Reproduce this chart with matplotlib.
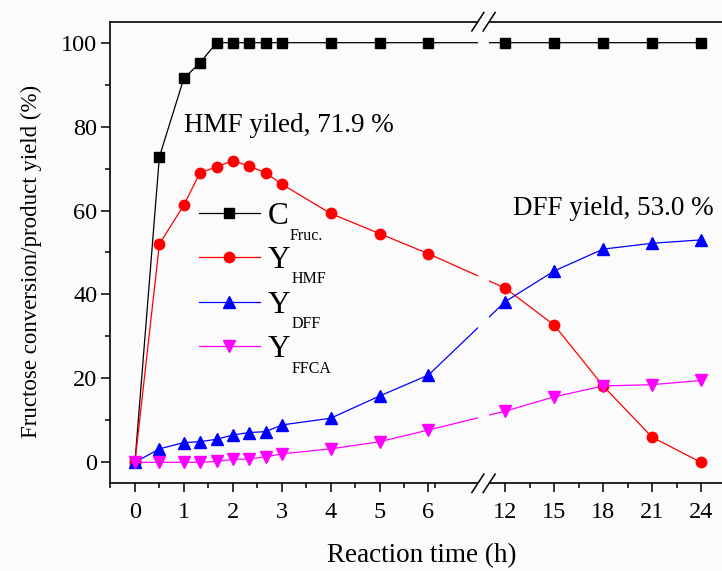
import matplotlib
matplotlib.use("Agg")
import matplotlib.pyplot as plt
import matplotlib.transforms as mtransforms
from matplotlib.patches import Rectangle
import numpy as np

# reaction time (h)
time_h = [0, 0.5, 1, 1.33, 1.67, 2, 2.33, 2.67, 3, 4, 5, 6, 12, 15, 18, 21, 24]

# fructose conversion and product yields (%)
c_fruc = [0, 72.8, 91.5, 95.2, 100, 100, 100, 100, 100, 100, 100, 100, 100, 100, 100, 100, 100]
y_hmf = [0, 52.0, 61.3, 69.0, 70.4, 71.9, 70.6, 69.0, 66.3, 59.3, 54.5, 49.7, 41.5, 32.7, 18.2, 6.0, 0]
y_dff = [0, 3.2, 4.7, 4.9, 5.5, 6.5, 7.1, 7.3, 8.9, 10.5, 15.8, 20.8, 38.3, 45.6, 50.8, 52.2, 53.0]
y_ffca = [0, 0, 0, 0, 0.2, 0.7, 0.8, 1.3, 2.0, 3.2, 4.9, 7.7, 12.2, 15.6, 18.2, 18.5, 19.5]

x_major = [0, 1, 2, 3, 4, 5, 6, 12, 15, 18, 21, 24]
y_major = [0, 20, 40, 60, 80, 100]

series = [
    (c_fruc, "black", "s", 7.0, "C", "Fruc."),
    (y_hmf, "red", "o", 7.5, "Y", "HMF"),
    (y_dff, "blue", "^", 8.5, "Y", "DFF"),
    (y_ffca, "magenta", "v", 8.5, "Y", "FFCA"),
]

plt.rcParams["font.family"] = ["Liberation Serif", "DejaVu Serif"]
BG = "#fbfbfb"

# broken time axis: 0-6 h at full scale, 12-24 h compressed by 3
T_KNOTS = [-100.0, 6.0, 12.0, 100.0]
U_KNOTS = [-100.0, 6.0, 7.57, 7.57 + 88.0 / 3.0]


def fwd(t):
    return np.interp(t, T_KNOTS, U_KNOTS)


def inv(u):
    return np.interp(u, U_KNOTS, T_KNOTS)


fig = plt.figure(figsize=(7.22, 5.71), dpi=100, facecolor=BG)
ax = fig.add_axes([0.153, 0.1536, 0.847, 0.8084], facecolor=BG)
ax.set_xscale("function", functions=(fwd, inv))

for values, color, marker, ms, _, _ in series:
    ax.plot(time_h, values, color=color, lw=0.9, marker=marker, ms=ms,
            mec=color, mfc=color, zorder=2)

ax.set_xlim(inv(-0.5), inv(12.0))
ax.set_ylim(-5, 105)

ax.set_xticks(x_major)
ax.set_xticklabels([str(v) for v in x_major])
minor_t = list(np.arange(-0.5, 7.0, 1.0)) + [13.5, 16.5, 19.5, 22.5]
ax.set_xticks(minor_t, minor=True)
ax.set_yticks(y_major)
ax.set_yticks(np.arange(10, 100, 20), minor=True)

ax.spines["right"].set_visible(False)
for s in ("top", "bottom", "left"):
    ax.spines[s].set_linewidth(1.2)
ax.tick_params(which="both", direction="out", top=False, right=False, width=1.1)
ax.tick_params(which="major", length=6.5, labelsize=17.5)
ax.tick_params(axis="x", which="major", pad=7)
ax.tick_params(axis="y", which="major", pad=3)
ax.tick_params(which="minor", length=3.5)

# axis break: white gap plus double slashes on top and bottom spines
blend = mtransforms.blended_transform_factory(ax.transData, ax.transAxes)
ua, ub = 7.01, 7.24
ax.add_patch(Rectangle((inv(ua), -0.012), inv(ub) - inv(ua), 1.024,
                       transform=blend, facecolor=BG, edgecolor="none",
                       clip_on=False, zorder=3))
for uc in (ua, ub):
    for yc in (0.0, 1.0):
        ax.plot([inv(uc - 0.123), inv(uc + 0.123)], [yc - 0.02, yc + 0.02],
                color="black", lw=1.1, transform=blend, clip_on=False, zorder=4)

# hand-drawn legend
row_y = [0.5849, 0.4903, 0.3934, 0.2964]
for (values, color, marker, ms, main, sub), yy in zip(series, row_y):
    ax.plot([0.1447, 0.2445], [yy, yy], color=color, lw=0.9,
            transform=ax.transAxes, zorder=5)
    ax.plot([0.1945], [yy], color=color, marker=marker, ms=ms, mec=color,
            transform=ax.transAxes, zorder=5)
    t_main = ax.text(0.2576, yy - 0.0238, main, fontsize=22.5, va="baseline",
                     ha="left", transform=ax.transAxes)
    ax.annotate(sub, xy=(1, 0), xycoords=t_main, xytext=(0.5, -6),
                textcoords="offset points", fontsize=11.5, va="baseline", ha="left")

ax.text(1.0, 78.8, "HMF yiled, 71.9 %", fontsize=19.5, ha="left", va="baseline")
ax.text(inv(7.72), 58.9, "DFF yield, 53.0 %", fontsize=19.5, ha="left", va="baseline")

fig.text(0.584, 0.0158, "Reaction time (h)", fontsize=19.5, ha="center", va="baseline")
fig.text(0.043, 1 - 261.5 / 571, "Fructose conversion/product yield (%)",
         fontsize=16.5, rotation=90, ha="center", va="center")

fig.savefig("out.png", dpi=100, facecolor=BG)
